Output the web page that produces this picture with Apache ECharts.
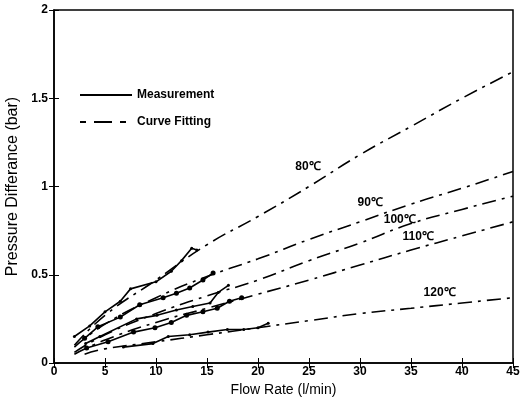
<!DOCTYPE html>
<html>
<head>
<meta charset="utf-8">
<script src="https://cdn.jsdelivr.net/npm/echarts@6/dist/echarts.min.js"></script>
<style>
  html, body { margin: 0; padding: 0; background: #fff; }
  #chart { width: 527px; height: 408px; }
</style>
</head>
<body>
<div id="chart"></div>
<script>
// measured points [flow, dp] per temperature
var meas80 = [[2.0,0.15],[3.5,0.21],[5.0,0.29],[6.5,0.35],[7.5,0.42],[10.0,0.46],[11.5,0.52],[12.5,0.58],[13.5,0.65],[14.0,0.64]];
var meas90 = [[3.0,0.14],[4.3,0.205],[6.5,0.26],[8.4,0.33],[10.7,0.37],[12.0,0.395],[13.3,0.425],[14.6,0.47],[15.6,0.51]];
var meas100 = [[3.1,0.11],[4.5,0.15],[8.1,0.25],[10.1,0.27],[12.0,0.30],[13.6,0.32],[15.3,0.34],[16.1,0.40],[17.1,0.44]];
var meas110 = [[3.2,0.085],[5.3,0.12],[7.8,0.175],[9.9,0.20],[11.5,0.23],[13.0,0.27],[14.6,0.29],[16.0,0.31],[17.2,0.35],[18.4,0.37]];
var meas120 = [[6.8,0.09],[9.7,0.11],[11.2,0.15],[13.3,0.16],[15.1,0.175],[17.0,0.19],[18.6,0.19],[20.0,0.20],[21.0,0.225]];

// fitted curves
var fit80 = [[2,0.10],[5,0.27],[10,0.47],[15,0.67],[20,0.83],[25,1.0],[30,1.18],[35,1.34],[40,1.5],[45,1.65]];
var fit90 = [[2,0.09],[5,0.22],[10,0.37],[15,0.49],[20,0.59],[25,0.7],[30,0.8],[35,0.9],[40,0.99],[45,1.085]];
var fit100 = [[2,0.06],[5,0.16],[10,0.28],[15,0.38],[20,0.47],[25,0.58],[30,0.68],[35,0.79],[40,0.87],[45,0.945]];
var fit110 = [[2,0.05],[5,0.13],[10,0.23],[15,0.31],[20,0.39],[25,0.47],[30,0.555],[35,0.64],[40,0.72],[45,0.8]];
var fit120 = [[3,0.05],[5,0.08],[10,0.12],[15,0.16],[20,0.2],[25,0.24],[30,0.28],[35,0.31],[40,0.34],[45,0.37]];

// curve labels
var tempNames = ['80℃', '90℃', '100℃', '110℃', '120℃'];
var tempAt = [[24.9,1.11],[31.0,0.91],[33.9,0.81],[35.7,0.715],[37.8,0.40]];

var xTicks = [0, 5, 10, 15, 20, 25, 30, 35, 40, 45];
var yTicks = [0, 0.5, 1, 1.5, 2];

var font = 'Liberation Sans, Arial, sans-serif';
var dashDot = [14, 6, 3, 6];

function measSeries(data, size) {
    return {
        name: 'Measurement',
        type: 'line',
        data: data,
        symbol: 'circle',
        symbolSize: size,
        itemStyle: { color: '#000' },
        lineStyle: { color: '#000', width: 1.6 },
        z: 3
    };
}
function fitSeries(data) {
    return {
        name: 'Curve Fitting',
        type: 'line',
        data: data,
        smooth: true,
        symbol: 'none',
        lineStyle: { color: '#000', width: 1.6, type: dashDot },
        z: 2
    };
}

var series = [
    // dummies so the legend shows plain lines
    { name: 'Measurement', type: 'line', data: [], symbol: 'none',
      itemStyle: { color: '#000' },
      lineStyle: { color: '#000', width: 1.6 } },
    { name: 'Curve Fitting', type: 'line', data: [], symbol: 'none',
      itemStyle: { color: '#000' },
      lineStyle: { color: '#000', width: 1.6, type: [6, 8, 18, 8] } },
    fitSeries(fit80), fitSeries(fit90), fitSeries(fit100), fitSeries(fit110), fitSeries(fit120),
    measSeries(meas80, 3), measSeries(meas90, 5), measSeries(meas100, 3),
    measSeries(meas110, 5), measSeries(meas120, 3),
    {
        type: 'scatter',
        symbol: 'circle',
        symbolSize: 1,
        itemStyle: { color: 'rgba(0,0,0,0)' },
        data: tempAt.map(function (p, i) { return { name: tempNames[i], value: p }; }),
        label: {
            show: true, position: 'inside', formatter: '{b}',
            color: '#000', opacity: 1, textBorderWidth: 0,
            fontFamily: font, fontSize: 12, fontWeight: 'bold'
        },
        silent: true,
        z: 4
    }
];

var option = {
    backgroundColor: '#fff',
    animation: false,
    grid: {
        left: 54, right: 14, top: 10, bottom: 45,
        outerBoundsMode: 'none',
        show: true, borderColor: '#000', borderWidth: 1.5
    },
    legend: {
        data: ['Measurement', 'Curve Fitting'],
        orient: 'vertical',
        left: 74, top: 84,
        itemWidth: 52, itemHeight: 10, itemGap: 15,
        itemStyle: { opacity: 0 },
        textStyle: { color: '#000', fontFamily: font, fontSize: 12, fontWeight: 'bold' },
        selectedMode: false
    },
    xAxis: [{
        type: 'value', min: 0, max: 45, interval: 5,
        name: 'Flow Rate (l/min)', nameLocation: 'middle', nameGap: 18,
        nameTextStyle: { color: '#000', fontFamily: font, fontSize: 14 },
        axisLine: { lineStyle: { color: '#000', width: 1.5 } },
        axisTick: { inside: true, length: 5, lineStyle: { color: '#000' } },
        axisLabel: { color: '#000', fontFamily: font, fontSize: 12, fontWeight: 'bold', margin: 3,
            formatter: function (v) { return xTicks.indexOf(v) >= 0 ? String(v) : ''; } },
        splitLine: { show: false }
    }, {
        type: 'value', min: 0, max: 45, interval: 5, position: 'top',
        axisLine: { show: false },
        axisTick: { inside: true, length: 5, lineStyle: { color: '#000' } },
        axisLabel: { show: false },
        splitLine: { show: false }
    }],
    yAxis: [{
        type: 'value', min: 0, max: 2, interval: 0.5,
        name: 'Pressure Differance (bar)', nameLocation: 'middle', nameGap: 26,
        nameTextStyle: { color: '#000', fontFamily: font, fontSize: 16 },
        axisLine: { show: true, lineStyle: { color: '#000', width: 1.5 } },
        axisTick: { inside: true, length: 5, lineStyle: { color: '#000' } },
        axisLabel: { color: '#000', fontFamily: font, fontSize: 12, fontWeight: 'bold', margin: 6,
            formatter: function (v) { return yTicks.indexOf(v) >= 0 ? String(v) : ''; } },
        splitLine: { show: false }
    }, {
        type: 'value', min: 0, max: 2, interval: 0.5, position: 'right',
        axisLine: { show: false },
        axisTick: { inside: true, length: 5, lineStyle: { color: '#000' } },
        axisLabel: { show: false },
        splitLine: { show: false }
    }],
    series: series
};

var myChart = echarts.init(document.getElementById('chart'));
myChart.setOption(option);
</script>
</body>
</html>
